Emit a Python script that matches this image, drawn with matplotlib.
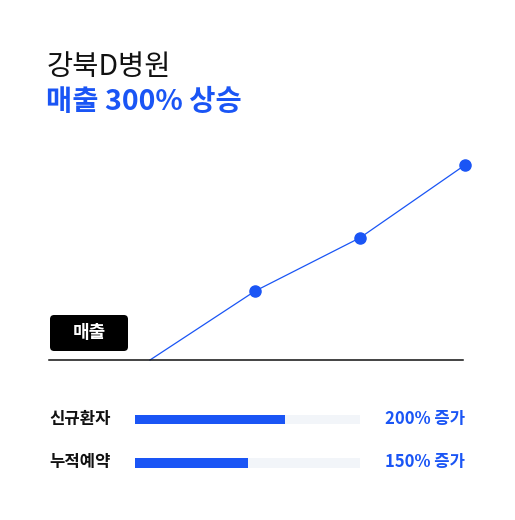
import matplotlib
matplotlib.use("Agg")
import matplotlib.pyplot as plt
from matplotlib.patches import FancyBboxPatch
from matplotlib.lines import Line2D

plt.rcParams['font.family'] = ['Noto Sans CJK KR', 'DejaVu Sans']

# Data
title = "강북D병원"
subtitle = "매출 300% 상승"
line_label = "매출"
revenue_idx = [0, 1, 2, 3]
revenue = [0, 106, 188, 300]
bar_labels = ["신규환자", "누적예약"]
bar_values = [200, 150]
bar_max = 300
bar_texts = ["200% 증가", "150% 증가"]

BLUE = "#1a55f5"
TRACK = "#f2f5f9"

W, H = 515, 520
fig = plt.figure(figsize=(W / 100, H / 100), dpi=100)
fig.patch.set_facecolor("white")

def fx(px):
    return px / W

def fy(py):
    return 1 - py / H

# Titles
fig.text(fx(47), fy(67), title, fontsize=20.5, fontweight='medium', color="#111111",
         ha='left', va='center')
fig.text(fx(46), fy(102), subtitle, fontsize=20.5, fontweight='bold', color=BLUE,
         ha='left', va='center')

# Line chart axes: index 0 -> x=150, 3 -> x=465; y 0 -> 360, 300 -> 165
ax = fig.add_axes([fx(150), fy(360), fx(465) - fx(150), fy(165) - fy(360)])
ax.set_xlim(0, 3)
ax.set_ylim(0, 300)
ax.axis('off')
ax.plot(revenue_idx, revenue, color=BLUE, lw=0.9, clip_on=False, zorder=2)
ax.plot(revenue_idx[1:], revenue[1:], 'o', color=BLUE, ms=8, clip_on=False, zorder=3)

# Baseline
fig.add_artist(Line2D([fx(49), fx(463)], [fy(360), fy(360)], color="#111111", lw=1.1))

# Label box
box = FancyBboxPatch((fx(50), fy(351)), fx(128) - fx(50), fy(315) - fy(351),
                     boxstyle="round,pad=0,rounding_size=0.008",
                     transform=fig.transFigure, facecolor="black", edgecolor="none")
fig.add_artist(box)
fig.text(fx(89), fy(333), line_label, fontsize=13, fontweight='bold', color="white",
         ha='center', va='center')

# Bars axes
bar_centers_px = [419.5, 463]
bax = fig.add_axes([fx(135), fy(480), fx(360) - fx(135), fy(400) - fy(480)])
bax.set_xlim(0, bar_max)
bax.set_ylim(480, 400)
bax.axis('off')
for yc, v, lab, txt in zip(bar_centers_px, bar_values, bar_labels, bar_texts):
    bax.barh(yc, bar_max, height=9.5, color=TRACK, zorder=1)
    bax.barh(yc, v, height=9.5, color=BLUE, zorder=2)
    fig.text(fx(49), fy(yc - 0.5), lab, fontsize=12, fontweight='bold', color="#111111",
             ha='left', va='center')
    fig.text(fx(465), fy(yc - 0.5), txt, fontsize=12, fontweight='bold', color=BLUE,
             ha='right', va='center')

fig.savefig("out.png", dpi=100, facecolor="white")
